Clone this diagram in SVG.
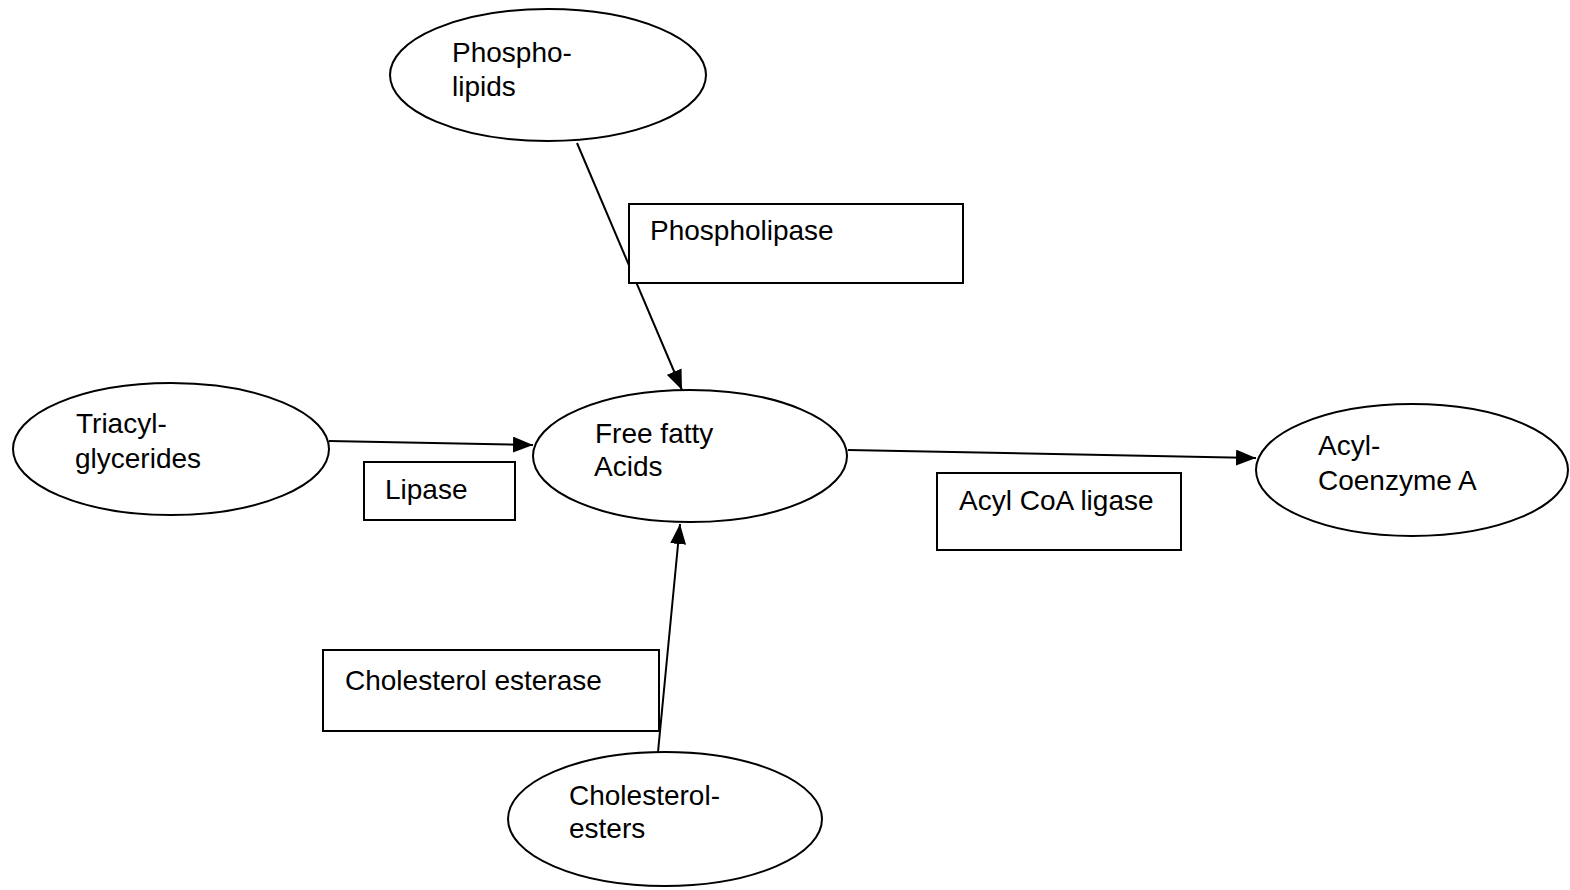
<svg xmlns="http://www.w3.org/2000/svg" width="1570" height="890" viewBox="0 0 1570 890">
<style>
.n{fill:#fff;stroke:#000;stroke-width:2}
.t{font-family:"Liberation Sans",Arial,sans-serif;font-size:28px;fill:#000}
.c{stroke:#000;stroke-width:2;fill:none;marker-end:url(#ah)}
</style>
<defs>
<marker id="ah" viewBox="0 0 20 16" refX="20" refY="8" markerWidth="20" markerHeight="16" markerUnits="userSpaceOnUse" orient="auto">
<path d="M0,0 L20,8 L0,16 z" fill="#000"/>
</marker>
</defs>
<rect width="1570" height="890" fill="#fff"/>
<g id="connectors">
<line class="c" x1="577" y1="143" x2="682" y2="390"/>
<line class="c" x1="329" y1="441" x2="533" y2="445"/>
<line class="c" x1="848" y1="450" x2="1256" y2="458"/>
<line class="c" x1="658" y1="752" x2="680" y2="524"/>
</g>
<g id="phospholipids">
<ellipse class="n" cx="548" cy="75" rx="158" ry="66"/>
<text class="t" x="452" y="62">Phospho-</text>
<text class="t" x="452" y="96">lipids</text>
</g>
<g id="phospholipase">
<rect class="n" x="629" y="204" width="334" height="79"/>
<text class="t" x="650" y="240">Phospholipase</text>
</g>
<g id="triacylglycerides">
<ellipse class="n" cx="171" cy="449" rx="158" ry="66"/>
<text class="t" x="76" y="433">Triacyl-</text>
<text class="t" x="75" y="468">glycerides</text>
</g>
<g id="lipase">
<rect class="n" x="364" y="462" width="151" height="58"/>
<text class="t" x="385" y="499">Lipase</text>
</g>
<g id="free-fatty-acids">
<ellipse class="n" cx="690" cy="456" rx="157" ry="66"/>
<text class="t" x="595" y="443">Free fatty</text>
<text class="t" x="594" y="476">Acids</text>
</g>
<g id="acyl-coa-ligase">
<rect class="n" x="937" y="473" width="244" height="77"/>
<text class="t" x="959" y="510">Acyl CoA ligase</text>
</g>
<g id="acyl-coenzyme-a">
<ellipse class="n" cx="1412" cy="470" rx="156" ry="66"/>
<text class="t" x="1318" y="455">Acyl-</text>
<text class="t" x="1318" y="490">Coenzyme A</text>
</g>
<g id="cholesterol-esterase">
<rect class="n" x="323" y="650" width="336" height="81"/>
<text class="t" x="345" y="690">Cholesterol esterase</text>
</g>
<g id="cholesterol-esters">
<ellipse class="n" cx="665" cy="819" rx="157" ry="67"/>
<text class="t" x="569" y="805">Cholesterol-</text>
<text class="t" x="569" y="838">esters</text>
</g>
</svg>
